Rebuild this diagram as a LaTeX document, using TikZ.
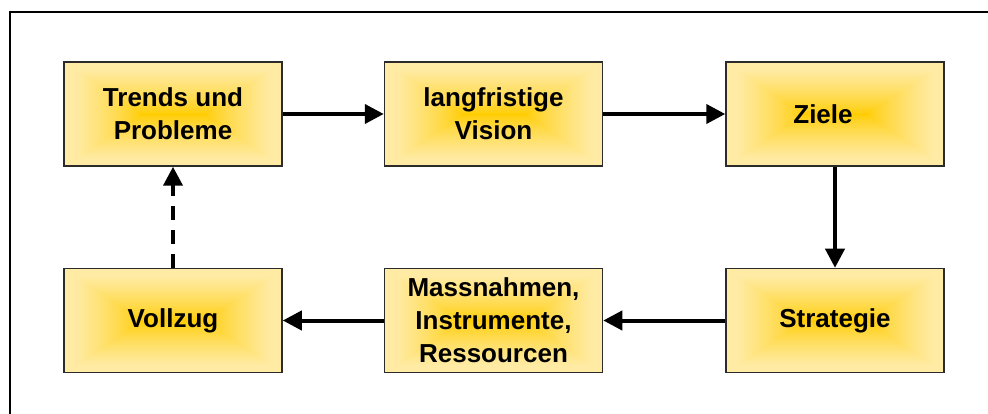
\documentclass[tikz,border=0pt]{standalone}
\usepackage{fontspec}
\setmainfont{Liberation Sans}
\usepackage{tikz}
\usetikzlibrary{positioning, arrows.meta}
\definecolor{frameBlack}{HTML}{000000}
\definecolor{boxBorder}{HTML}{2B2B2B}

% gold centre fading to pale yellow towards the edges
% (the path covers the middle square -25bp..25bp of the shading)
\pgfdeclarefunctionalshading{boxglow}{\pgfpoint{-50bp}{-50bp}}{\pgfpoint{50bp}{50bp}}{}{
  abs 25 exch sub 0.04 mul
  exch abs 25 exch sub 0.056 mul
  2 copy gt {exch} if pop
  1 exch sub dup 0 lt {pop 0} if 0.85 div 0.75 exp dup 1 gt {pop 1} if
  dup 0.12 mul 0.8 add exch 0.64 mul 1 3 1 roll
}

\begin{document}
\begin{tikzpicture}[
    x=1pt, y=1pt,
    font=\fontsize{26}{33}\selectfont\bfseries,
    box/.style={
      rectangle, draw=boxBorder, line width=1.5pt,
      shading=boxglow, align=center,
      minimum width=218pt, minimum height=104pt,
      inner sep=2pt
    },
    arr/.style={-{Triangle[length=19pt, width=19pt]}, line width=4pt, color=frameBlack},
    arrDashed/.style={arr, dash pattern=on 14pt off 10pt}
  ]
  \useasboundingbox (0,0) rectangle (988,-414);

  % Rahmen
  \draw[line width=1.2pt, frameBlack] (10,-414) -- (10,-12) -- (988,-12);

  % obere Reihe
  \node[box] (trends) at (173,-114) {Trends und\\Probleme};
  \node[box, right=101pt of trends] (vision) {langfristige\\Vision};
  \node[box, right=122pt of vision] (ziele) {Ziele\hspace*{24pt}};

  % untere Reihe
  \node[box, below=101pt of ziele] (strategie) {Strategie};
  \node[box, below=101pt of vision] (mittel) {Massnahmen,\\Instrumente,\\Ressourcen};
  \node[box, below=101pt of trends] (vollzug) {Vollzug};

  % Kreislauf
  \draw[arr] (trends) -- (vision);
  \draw[arr] (vision) -- (ziele);
  \draw[arr] (ziele) -- (strategie);
  \draw[arr] (strategie) -- (mittel);
  \draw[arr] (mittel) -- (vollzug);
  \draw[arrDashed] (vollzug) -- (trends);

\end{tikzpicture}
\end{document}
